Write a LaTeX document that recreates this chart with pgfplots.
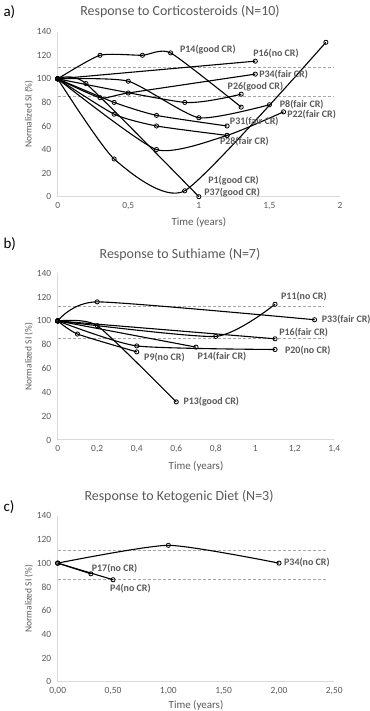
\documentclass[border=0pt]{standalone}
\usepackage{pgfplots}
\pgfplotsset{compat=1.18}
\usepackage{fontspec}
\setmainfont{Carlito}

\definecolor{txtgray}{HTML}{595959}
\definecolor{axgray}{HTML}{D9D9D9}
\definecolor{refgray}{HTML}{A6A6A6}

\pgfplotsset{
  panel/.style={
    scale only axis,
    anchor=south west,
    axis x line*=bottom,
    axis y line*=left,
    axis line style={draw=axgray, line width=1bp, -},
    major tick length=0pt,
    ymin=0, ymax=140, ytick={0,20,...,140},
    /pgf/number format/assume math mode=true,
    tick label style={font=\fontsize{9.5}{11}\selectfont, text=txtgray},
    yticklabel style={xshift=-3bp},
    xticklabel style={yshift=-2bp},
    ylabel={Normalized SI (\%)},
    xlabel={Time (years)},
    every axis y label/.style={at={(axis description cs:0,0.5)}, xshift=-29bp,
      rotate=90, anchor=center, font=\fontsize{9.5}{11}\selectfont, text=txtgray},
    every axis x label/.style={at={(axis description cs:0.5,0)}, yshift=-26bp,
      anchor=center, font=\fontsize{11}{13}\selectfont, text=txtgray},
    clip=false,
  },
  pt/.style={black, line width=1.1bp, smooth, tension=0.35, mark=o,
    mark size=2.1bp, mark options={fill=white, solid, line width=0.8bp}},
  ref/.style={refgray, dashed, dash pattern=on 3bp off 2bp, line width=0.7bp, mark=none},
}
\tikzset{lab/.style={anchor=west, text=txtgray, font=\bfseries\fontsize{10}{11}\selectfont, inner sep=0pt}}

\begin{document}
\begin{tikzpicture}
\useasboundingbox (0,0) rectangle (370bp,711bp);

% panel titles and letters
\node[anchor=west, font=\fontsize{15}{17}\selectfont] at (0bp,699.3bp) {a)};
\node[text=txtgray, font=\fontsize{14}{16}\selectfont] at (180bp,699.3bp) {Response to Corticosteroids (N=10)};
\node[anchor=west, font=\fontsize{15}{17}\selectfont] at (0bp,467bp) {b)};
\node[text=txtgray, font=\fontsize{14}{16}\selectfont] at (180bp,456.7bp) {Response to Suthiame (N=7)};
\node[anchor=west, font=\fontsize{15}{17}\selectfont] at (0bp,204.3bp) {c)};
\node[text=txtgray, font=\fontsize{14}{16}\selectfont] at (179bp,214.3bp) {Response to Ketogenic Diet (N=3)};

% ---------- a) corticosteroids ----------
\begin{axis}[panel, at={(57.7bp,514.3bp)}, width=282.3bp, height=165bp,
  xmin=0, xmax=2, xtick={0,0.5,1,1.5,2},
  xticklabels={0,{0,5},1,{1,5},2}]
\addplot[ref] coordinates {(0,110) (1.95,110)};
\addplot[ref] coordinates {(0,85) (1.95,85)};
\addplot[pt] coordinates {(0,100) (0.3,120) (0.6,120) (0.8,122) (1.3,76)};   % P14
\addplot[pt] coordinates {(0,100) (1.4,115)};                                % P16
\addplot[pt] coordinates {(0,100) (0.3,84) (0.5,88) (1.4,104)};              % P34
\addplot[pt] coordinates {(0,100) (0.9,80) (1.3,87)};                        % P26
\addplot[pt] coordinates {(0,100) (0.5,98) (1.0,67) (1.5,78)};               % P8
\addplot[pt] coordinates {(0,100) (0.4,80) (0.7,69) (1.2,60)};               % P31
\addplot[pt] coordinates {(0,100) (0.4,70) (0.7,60) (1.2,52)};               % P28
\addplot[pt] coordinates {(0,100) (0.7,40) (1.2,52) (1.6,72)};               % P22
\addplot[pt] coordinates {(0,100) (0.4,32) (0.9,5) (1.9,131)};               % P1
\addplot[pt] coordinates {(0,100) (0.2,96) (1.0,0)};                         % P37
\node[lab] at (axis cs:0.866,124.4) {P14(good CR)};
\node[lab] at (axis cs:1.384,121.6) {P16(no CR)};
\node[lab] at (axis cs:1.427,104) {P34(fair CR)};
\node[lab] at (axis cs:1.203,93.3) {P26(good CR)};
\node[lab] at (axis cs:1.573,78.3) {P8(fair CR)};
\node[lab] at (axis cs:1.625,69.3) {P22(fair CR)};
\node[lab] at (axis cs:1.219,63.9) {P31(fair CR)};
\node[lab] at (axis cs:1.149,46.9) {P28(fair CR)};
\node[lab] at (axis cs:1.066,13.3) {P1(good CR)};
\node[lab] at (axis cs:1.038,3.4) {P37(good CR)};
\end{axis}

% ---------- b) sulthiame ----------
\begin{axis}[panel, at={(57.7bp,271bp)}, width=276.6bp, height=166.7bp,
  xmin=0, xmax=1.4, xtick={0,0.2,0.4,0.6,0.8,1,1.2,1.4},
  xticklabels={0,{0,2},{0,4},{0,6},{0,8},1,{1,2},{1,4}}]
\addplot[ref] coordinates {(0,112) (1.35,112)};
\addplot[ref] coordinates {(0,85) (1.35,85)};
\addplot[pt] coordinates {(0,100) (0.2,116) (1.3,101)};                      % P33
\addplot[pt] coordinates {(0,100) (0.8,87) (1.1,114)};                       % P11
\addplot[pt] coordinates {(0,100) (1.1,85)};                                 % P16
\addplot[pt] coordinates {(0,100) (0.4,79) (1.1,76)};                        % P20
\addplot[pt] coordinates {(0,100) (0.7,78)};                                 % P14
\addplot[pt] coordinates {(0,100) (0.1,89) (0.4,74)};                        % P9
\addplot[pt] coordinates {(0,100) (0.2,96) (0.6,32)};                        % P13
\node[lab] at (axis cs:1.13,120.4) {P11(no CR)};
\node[lab] at (axis cs:1.336,100.8) {P33(fair CR)};
\node[lab] at (axis cs:1.121,90.4) {P16(fair CR)};
\node[lab] at (axis cs:1.15,75) {P20(no CR)};
\node[lab] at (axis cs:0.437,69.4) {P9(no CR)};
\node[lab] at (axis cs:0.707,70) {P14(fair CR)};
\node[lab] at (axis cs:0.636,31.9) {P13(good CR)};
\end{axis}

% ---------- c) ketogenic diet ----------
\begin{axis}[panel, at={(57.7bp,29.3bp)}, width=276.6bp, height=166bp,
  xmin=0, xmax=2.5, xtick={0,0.5,1,1.5,2,2.5},
  xticklabels={{0,00},{0,50},{1,00},{1,50},{2,00},{2,50}},
  every axis x label/.append style={yshift=2.5bp}]
\addplot[ref] coordinates {(0,111) (2.43,111)};
\addplot[ref] coordinates {(0,86) (2.43,86)};
\addplot[pt] coordinates {(0,100) (1.0,115) (2.0,100)};                      % P34
\addplot[pt] coordinates {(0,100) (0.5,86)};                                 % P4
\addplot[pt] coordinates {(0,100) (0.3,91)};                                 % P17
\node[lab] at (axis cs:0.307,95.6) {P17(no CR)};
\node[lab] at (axis cs:0.473,78.2) {P4(no CR)};
\node[lab] at (axis cs:2.045,100.4) {P34(no CR)};
\end{axis}
\end{tikzpicture}
\end{document}
